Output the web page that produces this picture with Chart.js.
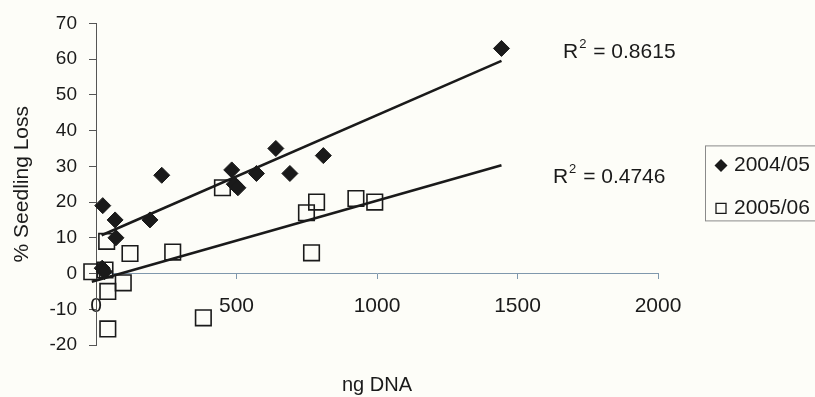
<!DOCTYPE html>
<html>
<head>
<meta charset="utf-8">
<script src="https://cdn.jsdelivr.net/npm/chart.js@4.4.0/dist/chart.umd.min.js"></script>
<style>
  html, body { margin: 0; padding: 0; background: #fdfdf8; }
  #wrap { width: 815px; height: 397px; position: relative; }
</style>
</head>
<body>
<div id="wrap"><canvas id="chart"></canvas></div>
<script>
// values: ng DNA (x) vs % seedling loss (y)
const season1Label = '2004/05';
const season1X = [22, 30, 24, 68, 71, 192, 234, 483, 492, 505, 571, 640, 690, 809, 1443];
const season1Y = [1.5, 0.5, 19, 15, 10, 15, 27.5, 29, 25, 24, 28, 35, 28, 33, 63];

const season2Label = '2005/06';
const season2X = [-15, 32, 38, 42, 42, 97, 121, 273, 382, 450, 749, 767, 785, 925, 992];
const season2Y = [0.5, 1, 9, -5, -15.5, -2.6, 5.6, 6, -12.4, 24, 17, 5.8, 20, 21, 20];

// linear trend lines (end points)
const trend1X = [20, 1443];
const trend1Y = [10.7, 59.5];
const trend2X = [-15, 1443];
const trend2Y = [-2.3, 30.3];

// R squared labels and where they sit (in data units)
const r2Values = ['0.8615', '0.4746'];
const r2AtX = [1662, 1626];
const r2AtY = [62, 27];

// axes
const xMin = 0, xMax = 2000, xStep = 500;
const yMin = -20, yMax = 70, yStep = 10;

const FONT = '"Liberation Sans", Arial, sans-serif';
const INK = '#1a1a1a';

const toPoints = (xs, ys) => xs.map((x, i) => ({ x: x, y: ys[i] }));

const extras = {
  id: 'extras',
  beforeDraw(chart) {
    const ctx = chart.ctx;
    ctx.save();
    ctx.fillStyle = '#fdfdf8';
    ctx.fillRect(0, 0, chart.width, chart.height);
    ctx.restore();
  },
  afterDraw(chart) {
    const { ctx, chartArea, scales: { x, y } } = chart;
    ctx.save();
    ctx.fillStyle = INK;
    ctx.textBaseline = 'middle';
    ctx.textAlign = 'left';

    // R² labels
    r2Values.forEach((v, i) => {
      const px = x.getPixelForValue(r2AtX[i]);
      const py = y.getPixelForValue(r2AtY[i]);
      ctx.font = '21px ' + FONT;
      ctx.fillText('R', px, py);
      const wR = ctx.measureText('R').width;
      ctx.font = '13px ' + FONT;
      ctx.fillText('2', px + wR + 1, py - 8);
      const w2 = ctx.measureText('2').width;
      ctx.font = '21px ' + FONT;
      ctx.fillText(' = ' + v, px + wR + w2 + 2, py);
    });

    // legend box, runs off the right edge like the original
    const lx = chartArea.right + 47;
    const ly = chartArea.top + 122;
    ctx.strokeStyle = '#8a8a8a';
    ctx.lineWidth = 1;
    ctx.strokeRect(lx + 0.5, ly + 0.5, 140, 75);

    const rows = chart.data.datasets.filter(d => d.inLegend);
    rows.forEach((d, i) => {
      const cy = ly + 20 + i * 43;
      const cx = lx + 16;
      ctx.beginPath();
      if (d.pointStyle === 'rectRot') {
        ctx.moveTo(cx - 6.5, cy);
        ctx.lineTo(cx, cy - 6.5);
        ctx.lineTo(cx + 6.5, cy);
        ctx.lineTo(cx, cy + 6.5);
        ctx.closePath();
        ctx.fillStyle = INK;
        ctx.fill();
      } else {
        ctx.rect(cx - 5, cy - 5, 10, 10);
        ctx.strokeStyle = INK;
        ctx.lineWidth = 1.3;
        ctx.stroke();
      }
      ctx.fillStyle = INK;
      ctx.font = '21px ' + FONT;
      ctx.fillText(d.label, lx + 29, cy);
    });
    ctx.restore();
  }
};

new Chart(document.getElementById('chart'), {
  type: 'scatter',
  data: {
    datasets: [
      {
        label: 'trend ' + season1Label,
        type: 'line',
        data: toPoints(trend1X, trend1Y),
        borderColor: INK,
        borderWidth: 2.6,
        pointRadius: 0,
        fill: false,
        order: 0
      },
      {
        label: 'trend ' + season2Label,
        type: 'line',
        data: toPoints(trend2X, trend2Y),
        borderColor: INK,
        borderWidth: 2.6,
        pointRadius: 0,
        fill: false,
        order: 0
      },
      {
        label: season1Label,
        inLegend: true,
        data: toPoints(season1X, season1Y),
        pointStyle: 'rectRot',
        pointRadius: 8,
        pointHoverRadius: 8,
        backgroundColor: INK,
        borderColor: INK,
        borderWidth: 1,
        order: 1
      },
      {
        label: season2Label,
        inLegend: true,
        data: toPoints(season2X, season2Y),
        pointStyle: 'rect',
        pointRadius: 11,
        pointHoverRadius: 11,
        backgroundColor: 'rgba(0,0,0,0)',
        borderColor: INK,
        borderWidth: 1.6,
        order: 2
      }
    ]
  },
  options: {
    responsive: true,
    maintainAspectRatio: false,
    animation: false,
    devicePixelRatio: 1,
    clip: false,
    layout: { padding: { left: 0, right: 157, top: 22, bottom: 0 } },
    plugins: {
      legend: { display: false },
      tooltip: { enabled: false },
      title: {
        display: true,
        text: 'ng DNA',
        position: 'bottom',
        fullSize: false,
        color: INK,
        font: { family: FONT, size: 20, weight: 'normal' },
        padding: { top: 28, bottom: 0 }
      }
    },
    scales: {
      x: {
        type: 'linear',
        position: { y: 0 },
        min: xMin,
        max: xMax,
        ticks: {
          stepSize: xStep,
          padding: 15,
          color: INK,
          font: { family: FONT, size: 21 },
          callback: v => String(v)
        },
        grid: { drawOnChartArea: false, drawTicks: true, tickLength: 5, color: '#7f98ad' },
        border: { color: '#7f98ad', width: 1 }
      },
      y: {
        type: 'linear',
        position: 'left',
        min: yMin,
        max: yMax,
        ticks: {
          stepSize: yStep,
          padding: 12,
          color: INK,
          font: { family: FONT, size: 19 },
          callback: v => String(v)
        },
        grid: { drawOnChartArea: false, drawTicks: true, tickLength: 7, color: '#555' },
        border: { color: '#555', width: 1 },
        title: {
          display: true,
          text: '% Seedling Loss',
          color: INK,
          font: { family: FONT, size: 21 },
          padding: { top: 10, bottom: 0 }
        },
        afterFit(scale) { scale.width = 96; }
      }
    }
  },
  plugins: [extras]
});
</script>
</body>
</html>
